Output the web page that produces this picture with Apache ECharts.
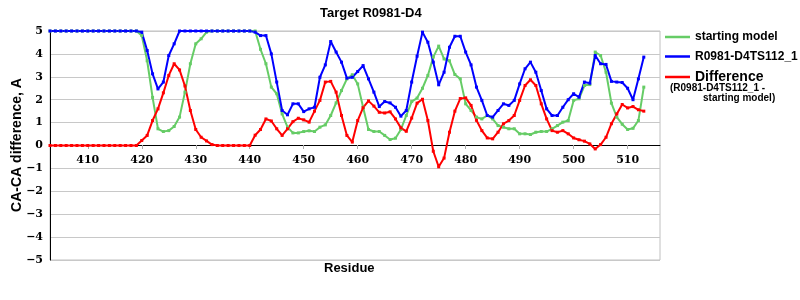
<!DOCTYPE html>
<html>
<head>
<meta charset="utf-8">
<script src="https://cdn.jsdelivr.net/npm/echarts@6/dist/echarts.min.js"></script>
<style>
html,body{margin:0;padding:0;background:#fff;}
#chart{width:800px;height:300px;}
</style>
</head>
<body>
<div id="chart"></div>
<script>
// Residue numbers on the x axis (data 403..513, axis runs to 516)
const residues = [];
for (let r = 403; r <= 516; r++) residues.push(String(r));

const seriesNames = ['starting model', 'R0981-D4TS112_1', 'Difference'];

// starting model, residues 403..513
const startingModel = [
  5,5,5,5,5,5,5,5,5,5,5,5,5,5,5,5,5,            // 403-419
  4.8,3.7,2.1,0.73,0.61,0.65,0.83,1.24,2.33,3.57, // 420-429
  4.44,4.66,4.95,5,5,5,5,5,5,5,                   // 430-439
  5,5,4.2,3.57,2.55,2.26,1.38,0.8,0.55,0.55,      // 440-449
  0.61,0.64,0.61,0.8,0.9,1.31,1.86,2.4,2.91,3.09, // 450-459
  2.69,1.67,0.7,0.61,0.61,0.44,0.26,0.32,0.7,1.31,// 460-469
  1.92,2.07,2.5,3.06,3.86,4.34,3.78,3.7,3.1,2.91, // 470-479
  1.82,1.53,1.24,1.16,1.31,1.16,0.87,0.8,0.73,0.73,// 480-489
  0.51,0.51,0.48,0.58,0.61,0.61,0.73,0.87,1.02,1.09,// 490-499
  1.97,2.04,2.62,2.66,4.08,3.93,3.2,1.85,1.24,0.93,// 500-509
  0.7,0.75,1.09,2.55                              // 510-513
];

// R0981-D4TS112_1, residues 403..513
const modelTS112 = [
  5,5,5,5,5,5,5,5,5,5,5,5,5,5,5,5,5,            // 403-419
  4.95,4.15,3.13,2.47,2.77,3.93,4.44,5,5,5,       // 420-429
  5,5,5,5,5,5,5,5,5,5,                            // 430-439
  5,4.95,4.8,4.8,4.0,2.77,1.53,1.34,1.82,1.82,    // 440-449
  1.48,1.6,1.67,2.98,3.52,4.54,4.08,3.64,2.94,2.98,// 450-459
  3.23,3.49,2.91,2.33,1.7,1.92,1.86,1.67,1.28,1.53,// 460-469
  2.77,3.9,4.95,4.51,3.64,2.65,3.2,4.29,4.77,4.77,// 470-479
  4.08,3.52,2.55,1.97,1.31,1.24,1.53,1.82,1.75,1.97,// 480-489
  2.69,3.35,3.64,3.2,2.4,1.6,1.31,1.31,1.67,2.0,  // 490-499
  2.26,2.11,2.77,2.72,3.93,3.57,3.54,2.8,2.77,2.75,// 500-509
  2.5,2.0,2.91,3.86                               // 510-513
];

// Difference (R0981-D4TS112_1 - starting model), residues 403..513
const difference = [
  0,0,0,0,0,0,0,0,0,0,0,0,0,0,0,0,0,            // 403-419
  0.22,0.44,1.09,1.6,2.3,3.06,3.57,3.3,2.6,1.53,  // 420-429
  0.7,0.36,0.2,0.04,0,0,0,0,0,0,                  // 430-439
  0,0.45,0.7,1.16,1.07,0.73,0.44,0.73,1.04,1.19,  // 440-449
  1.12,1.02,1.5,1.97,2.77,2.8,2.33,1.31,0.44,0.15,// 450-459
  1.09,1.65,1.95,1.72,1.45,1.42,1.47,1.16,0.77,0.62,// 460-469
  1.2,1.85,2.02,1.09,-0.25,-0.93,-0.55,0.58,1.5,2.05,// 470-479
  2.08,1.75,1.1,0.65,0.33,0.29,0.58,0.95,1.09,1.31,// 480-489
  1.97,2.62,2.87,2.62,1.82,1.16,0.65,0.58,0.65,0.51,// 490-499
  0.33,0.25,0.19,0.07,-0.15,0.04,0.36,0.95,1.38,1.79,// 500-509
  1.64,1.7,1.56,1.5                               // 510-513
];

const colors = ['#66cc66', '#0000ff', '#ff0000'];
const SANS = '"Liberation Sans", Arial, sans-serif';
const SERIF = '"DejaVu Serif", serif';

const chart = echarts.init(document.getElementById('chart'), null, {renderer: 'canvas'});

const tenFn = (idx, val) => Number(val) % 10 === 0;

function mkSeries(name, data, color) {
  return {
    name: name,
    type: 'line',
    data: data,
    symbol: 'rect',
    symbolSize: 3,
    showSymbol: true,
    lineStyle: {color: color, width: 2},
    itemStyle: {color: color},
    animation: false
  };
}

chart.setOption({
  animation: false,
  backgroundColor: '#fff',
  title: {
    text: 'Target R0981-D4',
    left: 320, top: 7, padding: 0,
    textStyle: {fontFamily: SANS, fontWeight: 'bold', fontSize: 13, color: '#000'}
  },
  grid: {
    left: 50, top: 31, right: 140, bottom: 40,
    show: true, borderColor: '#c0c0c0', borderWidth: 1,
    containLabel: false, outerBoundsMode: 'none'
  },
  legend: {
    orient: 'vertical',
    left: 665, top: 31, padding: 0,
    icon: 'rect',
    itemWidth: 25, itemHeight: 2.5, itemGap: 7.5,
    data: seriesNames,
    formatter: function (name) {
      return name === 'Difference' ? '{d|' + name + '}' : '{n|' + name + '}';
    },
    textStyle: {
      color: '#000',
      rich: {
        n: {fontFamily: SANS, fontWeight: 'bold', fontSize: 12, lineHeight: 14},
        d: {fontFamily: SANS, fontWeight: 'bold', fontSize: 14, lineHeight: 14}
      }
    }
  },
  xAxis: {
    type: 'category',
    data: residues,
    boundaryGap: false,
    position: 'bottom',
    offset: -115,
    axisLine: {onZero: false, lineStyle: {color: '#000', width: 1}},
    axisTick: {show: true, interval: tenFn, length: 4, lineStyle: {color: '#aaa'}},
    axisLabel: {
      interval: tenFn, margin: 10,
      fontFamily: SERIF, fontWeight: 'bold', fontSize: 11, color: '#000'
    },
    splitLine: {show: false}
  },
  yAxis: {
    type: 'value',
    min: -5, max: 5, interval: 1,
    axisLine: {show: true, lineStyle: {color: '#000', width: 1}},
    axisTick: {show: false},
    axisLabel: {
      margin: 7,
      fontFamily: SERIF, fontWeight: 'bold', fontSize: 11, color: '#000',
      formatter: v => (v < 0 ? '\u2212' + (-v) : String(v))
    },
    splitLine: {show: true, lineStyle: {color: '#c8c8c8', width: 1}}
  },
  graphic: [
    {type: 'text', x: 17, y: 145, rotation: Math.PI / 2,
     style: {text: 'CA-CA difference, A', fontFamily: SANS, fontWeight: 'bold', fontSize: 14,
             fill: '#000', align: 'center', verticalAlign: 'middle'}},
    {type: 'text', left: 324, top: 262,
     style: {text: 'Residue', fontFamily: SANS, fontWeight: 'bold', fontSize: 13, fill: '#000'}},
    {type: 'text', left: 670, top: 83,
     style: {text: '(R0981-D4TS112_1 -', fontFamily: SANS, fontWeight: 'bold', fontSize: 10, fill: '#000'}},
    {type: 'text', left: 703, top: 93,
     style: {text: 'starting model)', fontFamily: SANS, fontWeight: 'bold', fontSize: 10, fill: '#000'}}
  ],
  series: [
    mkSeries(seriesNames[0], startingModel, colors[0]),
    mkSeries(seriesNames[1], modelTS112, colors[1]),
    mkSeries(seriesNames[2], difference, colors[2])
  ]
});
</script>
</body>
</html>
